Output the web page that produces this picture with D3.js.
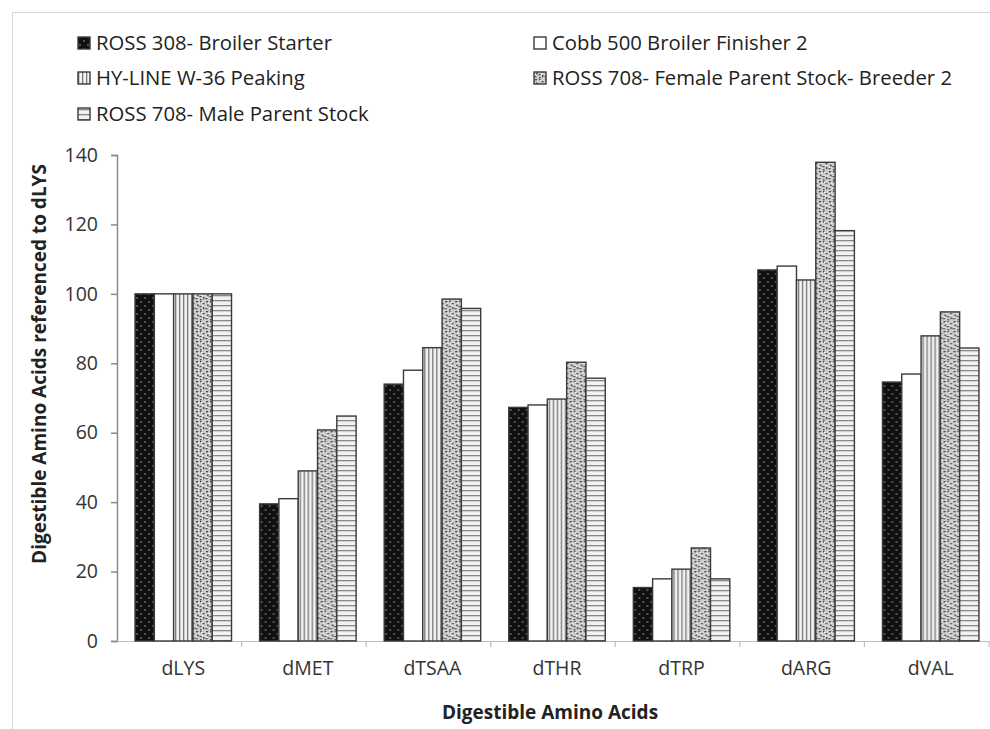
<!DOCTYPE html>
<html>
<head>
<meta charset="utf-8">
<script src="https://cdn.jsdelivr.net/npm/d3@7"></script>
<style>
  html, body { margin: 0; padding: 0; background: #fff; }
  svg { display: block; font-family: "Open Sans", "Liberation Sans", sans-serif; }
</style>
</head>
<body>
<svg id="chart" width="990" height="729"></svg>
<script>
const categories = ["dLYS", "dMET", "dTSAA", "dTHR", "dTRP", "dARG", "dVAL"];
const seriesNames = [
  "ROSS 308- Broiler Starter",
  "Cobb 500 Broiler Finisher 2",
  "HY-LINE W-36 Peaking",
  "ROSS 708- Female Parent Stock- Breeder 2",
  "ROSS 708- Male Parent Stock"
];
const ross308Starter   = [100, 39.5, 74, 67.3, 15.4, 106.9, 74.6];
const cobb500Finisher  = [100, 41, 78, 68, 17.9, 108, 76.9];
const hyLinePeaking    = [100, 49, 84.5, 69.7, 20.7, 104, 87.9];
const ross708Female    = [100, 60.8, 98.5, 80.3, 26.8, 137.9, 94.8];
const ross708Male      = [100, 64.8, 95.8, 75.7, 17.9, 118.2, 84.4];
const yTicks = [0, 20, 40, 60, 80, 100, 120, 140];

const seriesValues = [ross308Starter, cobb500Finisher, hyLinePeaking, ross708Female, ross708Male];
const patternIds = ["pDots", "pWhite", "pVert", "pStipple", "pHoriz"];

const svg = d3.select("#chart");

// frame
svg.append("rect").attr("x", 12.5).attr("y", 12.5).attr("width", 990).attr("height", 729)
  .attr("fill", "none").attr("stroke", "#d9d9d9").attr("stroke-width", 1);

// patterns
const defs = svg.append("defs");
let p = defs.append("pattern").attr("id", "pDots").attr("patternUnits", "userSpaceOnUse")
  .attr("width", 8).attr("height", 8);
p.append("rect").attr("width", 8).attr("height", 8).attr("fill", "#111");
p.append("circle").attr("cx", 2).attr("cy", 2).attr("r", 1).attr("fill", "#666");
p.append("circle").attr("cx", 6).attr("cy", 6).attr("r", 1).attr("fill", "#666");
p = defs.append("pattern").attr("id", "pWhite").attr("patternUnits", "userSpaceOnUse")
  .attr("width", 4).attr("height", 4);
p.append("rect").attr("width", 4).attr("height", 4).attr("fill", "#fff");
p = defs.append("pattern").attr("id", "pVert").attr("patternUnits", "userSpaceOnUse")
  .attr("width", 4).attr("height", 4);
p.append("rect").attr("width", 4).attr("height", 4).attr("fill", "#f2f2f2");
p.append("rect").attr("x", 0).attr("width", 1.3).attr("height", 4).attr("fill", "#777");
p = defs.append("pattern").attr("id", "pStipple").attr("patternUnits", "userSpaceOnUse")
  .attr("width", 10).attr("height", 10);
p.append("rect").attr("width", 10).attr("height", 10).attr("fill", "#cfcfcf");
[[1,1,2.2,1.4],[5,0.5,1.5,2],[7.5,3,2,1.3],[2,4.5,1.6,2],[4.5,6,2.2,1.2],[8,7,1.4,2.2],[0.5,8,2,1.3],[5,9,1.6,1]].forEach(d => {
  p.append("rect").attr("x", d[0]).attr("y", d[1]).attr("width", d[2]).attr("height", d[3]).attr("fill", "#4a4a4a");
});
[[3,2.5],[7,5],[1.5,6.5],[6,2]].forEach(d => {
  p.append("rect").attr("x", d[0]).attr("y", d[1]).attr("width", 1.2).attr("height", 1.2).attr("fill", "#fff");
});
p = defs.append("pattern").attr("id", "pHoriz").attr("patternUnits", "userSpaceOnUse")
  .attr("width", 4).attr("height", 5);
p.append("rect").attr("width", 4).attr("height", 5).attr("fill", "#f2f2f2");
p.append("rect").attr("y", 0).attr("width", 4).attr("height", 1.3).attr("fill", "#888");

// scales
const x0 = d3.scaleBand().domain(categories).range([117, 989]).paddingInner(0).paddingOuter(0);
const groupWidth = 96.5;
const x1 = d3.scaleBand().domain(d3.range(seriesNames.length)).range([0, groupWidth]).padding(0);
const y = d3.scaleLinear().domain([0, 140]).range([641, 155]);

const tickFont = 19.5;

// y axis
const yAxis = d3.axisLeft(y).tickValues(yTicks).tickSize(6).tickPadding(13);
const gy = svg.append("g").attr("transform", "translate(117,0)").call(yAxis);
gy.select(".domain").attr("stroke", "#8c8c8c").attr("stroke-width", 1.5);
gy.selectAll(".tick line").attr("stroke", "#8c8c8c").attr("stroke-width", 1.5);
gy.selectAll(".tick text").attr("font-size", tickFont).attr("fill", "#333")
  .style("font-family", "'Open Sans', sans-serif");

// x axis
const xAxis = d3.axisBottom(x0).tickSize(0).tickPadding(20);
const gx = svg.append("g").attr("transform", "translate(0,641)").call(xAxis);
gx.select(".domain").attr("stroke", "#bfbfbf").attr("stroke-width", 1.2);
gx.selectAll(".tick text").attr("font-size", tickFont).attr("fill", "#333")
  .style("font-family", "'Open Sans', sans-serif").attr("dx", 4);
const bounds = categories.map(c => x0(c)).concat([x0(categories[categories.length - 1]) + x0.bandwidth()]);
svg.append("g").selectAll("line").data(bounds.slice(1)).join("line")
  .attr("x1", d => d).attr("x2", d => d).attr("y1", 641).attr("y2", 647)
  .attr("stroke", "#bfbfbf").attr("stroke-width", 1.2);

// bars
const groups = svg.append("g").selectAll("g").data(categories).join("g")
  .attr("transform", c => `translate(${x0(c) + (x0.bandwidth() - groupWidth) / 2 + 4},0)`);
groups.selectAll("rect").data((c, i) => seriesValues.map((vals, s) => ({ s, v: vals[i] })))
  .join("rect")
  .attr("x", d => x1(d.s))
  .attr("width", x1.bandwidth())
  .attr("y", d => y(d.v))
  .attr("height", d => y(0) - y(d.v))
  .attr("fill", d => `url(#${patternIds[d.s]})`)
  .attr("stroke", "#3a3a3a").attr("stroke-width", 1.4);

// axis titles
svg.append("text").attr("transform", "translate(46,364) rotate(-90)")
  .attr("text-anchor", "middle").attr("font-size", 19).attr("font-weight", "bold")
  .attr("fill", "#222").text("Digestible Amino Acids referenced to dLYS");
svg.append("text").attr("x", 550).attr("y", 719)
  .attr("text-anchor", "middle").attr("font-size", 19).attr("font-weight", "bold")
  .attr("fill", "#222").text("Digestible Amino Acids");

// legend
const legendPos = [[78, 43], [534, 43], [78, 78], [534, 78], [78, 114]];
const leg = svg.append("g").selectAll("g").data(seriesNames).join("g")
  .attr("transform", (d, i) => `translate(${legendPos[i][0]},${legendPos[i][1]})`);
leg.append("rect").attr("x", 0).attr("y", -6).attr("width", 12).attr("height", 12)
  .attr("fill", (d, i) => `url(#${patternIds[i]})`).attr("stroke", "#3a3a3a").attr("stroke-width", 1.4);
leg.append("text").attr("x", 18).attr("y", 0).attr("dy", "0.36em")
  .attr("font-size", 20.3).attr("fill", "#222").text(d => d);
</script>
</body>
</html>
